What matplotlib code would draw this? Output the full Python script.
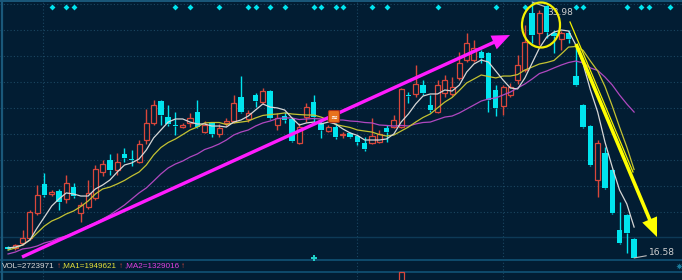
import numpy as np
import matplotlib.pyplot as plt
from matplotlib.patches import Ellipse, FancyBboxPatch

# daily bars, left to right
opens = [17.29, 17.26, 17.60, 17.94, 19.64, 21.61, 20.93, 21.13, 20.59, 21.40,
         19.64, 20.04, 20.66, 22.42, 23.24, 22.56, 23.65, 23.31, 23.10, 24.60,
         25.76, 27.25, 26.16, 25.62, 25.48, 25.76, 26.50, 25.14, 25.76, 25.01,
         25.76, 25.89, 27.52, 26.03, 27.66, 27.18, 27.93, 25.62, 26.23, 26.03,
         24.40, 26.16, 27.18, 25.76, 25.21, 25.48, 24.91, 25.08, 24.87, 24.40,
         24.40, 24.46, 25.42, 25.48, 25.48, 27.66, 27.73, 28.34, 26.98, 26.50,
         27.80, 27.73, 28.82, 30.04, 30.04, 30.58, 30.52, 28.00, 26.91, 27.66,
         28.68, 29.36, 33.24, 31.88, 33.71, 31.88, 31.47, 31.88, 28.95, 26.98,
         25.55, 21.88, 23.72, 22.56, 18.48, 19.50, 17.87]
highs = [17.39, 17.53, 18.48, 19.84, 21.54, 22.36, 21.20, 21.27, 22.22, 21.68,
         20.38, 21.88, 22.90, 23.24, 23.65, 23.72, 24.06, 23.92, 24.60, 26.71,
         27.32, 27.32, 26.98, 26.50, 25.76, 26.44, 27.32, 25.89, 25.82, 25.69,
         26.10, 27.66, 28.95, 26.64, 27.80, 28.14, 28.00, 26.44, 26.50, 26.10,
         25.76, 27.12, 27.66, 25.89, 25.62, 25.76, 25.14, 25.14, 24.94, 24.80,
         26.10, 25.28, 25.62, 26.30, 28.14, 27.86, 29.70, 28.68, 27.66, 28.68,
         29.02, 28.88, 30.58, 31.88, 31.40, 30.72, 30.58, 28.34, 28.34, 28.48,
         30.38, 32.42, 33.98, 33.44, 33.78, 32.08, 32.01, 32.08, 31.06, 27.05,
         25.62, 24.60, 24.12, 22.63, 20.38, 19.57, 17.94]
lows = [17.12, 17.12, 17.46, 17.80, 19.50, 20.72, 20.79, 19.84, 20.32, 20.66,
        19.02, 19.91, 20.52, 22.15, 22.22, 22.22, 23.10, 22.83, 23.04, 24.33,
        25.62, 25.62, 25.55, 24.94, 25.42, 25.48, 25.42, 25.08, 24.80, 24.80,
        25.55, 25.76, 26.44, 25.82, 26.84, 27.05, 26.03, 25.28, 25.76, 24.46,
        24.33, 25.82, 25.82, 24.74, 25.14, 24.67, 24.74, 24.74, 24.26, 23.85,
        24.33, 24.40, 24.46, 25.42, 25.42, 27.12, 27.52, 27.66, 26.50, 26.44,
        27.52, 27.59, 28.68, 29.90, 29.90, 29.84, 26.50, 26.23, 26.30, 27.52,
        28.41, 29.22, 31.20, 31.06, 31.54, 30.52, 30.72, 31.20, 28.27, 25.42,
        22.83, 20.72, 21.27, 19.57, 17.53, 16.92, 16.58]
closes = [17.22, 17.46, 17.94, 19.70, 20.86, 20.86, 21.06, 20.38, 21.68, 20.79,
          20.18, 21.00, 22.63, 22.97, 22.56, 23.10, 23.38, 23.21, 24.33, 25.76,
          26.98, 26.30, 25.69, 25.55, 25.59, 26.10, 25.48, 25.62, 25.01, 25.42,
          25.86, 27.12, 26.50, 26.44, 27.25, 27.93, 26.10, 26.10, 25.96, 24.53,
          25.48, 26.84, 26.16, 25.28, 25.48, 24.80, 24.97, 24.80, 24.46, 23.99,
          24.87, 25.01, 25.14, 25.96, 28.07, 27.59, 28.41, 27.80, 26.64, 28.34,
          28.68, 28.20, 29.84, 31.20, 30.86, 30.18, 27.32, 26.78, 28.20, 28.20,
          29.70, 31.26, 31.74, 33.24, 31.94, 31.67, 31.88, 31.47, 28.34, 25.48,
          22.90, 24.40, 21.34, 19.64, 17.60, 18.28, 16.58]

# moving averages as drawn on the chart
ma5 = [17.26, 17.32, 17.46, 17.80, 18.62, 19.36, 20.11, 20.59, 21.00, 20.93,
       20.79, 20.79, 21.27, 21.54, 21.88, 22.42, 22.90, 23.04, 23.31, 23.92,
       24.74, 25.28, 25.82, 26.03, 26.03, 25.82, 25.69, 25.69, 25.55, 25.55,
       25.48, 25.82, 25.96, 26.23, 26.64, 27.05, 26.84, 26.78, 26.64, 26.10,
       25.62, 25.76, 25.82, 25.69, 25.82, 25.69, 25.35, 25.08, 24.91, 24.60,
       24.60, 24.60, 24.67, 25.01, 25.82, 26.37, 27.05, 27.59, 27.73, 27.73,
       28.00, 27.93, 28.34, 29.22, 29.77, 30.04, 29.90, 29.29, 28.68, 28.14,
       28.07, 28.82, 29.84, 30.86, 31.60, 31.94, 32.08, 32.01, 31.06, 29.77,
       28.00, 26.50, 24.46, 22.76, 21.20, 20.25, 18.68]
ma10 = [17.12, 17.26, 17.46, 17.80, 18.28, 18.75, 19.09, 19.30, 19.57, 19.77,
        20.08, 20.45, 20.93, 21.27, 21.40, 21.61, 21.85, 22.15, 22.42, 22.90,
        23.58, 24.09, 24.43, 24.67, 24.97, 25.28, 25.48, 25.76, 25.79, 25.79,
        25.65, 25.76, 25.82, 25.89, 26.10, 26.27, 26.33, 26.37, 26.44, 26.37,
        26.33, 26.30, 26.30, 26.16, 25.96, 25.65, 25.55, 25.45, 25.28, 25.21,
        25.14, 24.97, 24.87, 24.94, 25.21, 25.48, 25.82, 26.13, 26.37, 26.78,
        27.18, 27.49, 27.97, 28.48, 28.75, 29.02, 28.92, 28.82, 28.95, 28.95,
        29.05, 29.36, 29.56, 29.77, 29.87, 30.01, 30.45, 30.92, 30.96, 30.69,
        29.97, 29.29, 28.24, 26.91, 25.48, 24.12, 22.59]
ma20 = [16.85, 16.98, 17.19, 17.26, 17.39, 17.60, 17.73, 17.94, 18.07, 18.28,
        18.48, 18.75, 18.96, 19.23, 19.50, 19.84, 20.18, 20.59, 21.00, 21.34,
        21.81, 22.29, 22.70, 22.97, 23.17, 23.44, 23.65, 23.95, 24.12, 24.33,
        24.60, 24.94, 25.14, 25.28, 25.55, 25.76, 25.89, 26.06, 26.10, 26.10,
        25.99, 26.03, 26.06, 26.03, 26.03, 25.96, 25.96, 25.89, 25.86, 25.79,
        25.76, 25.62, 25.59, 25.55, 25.59, 25.55, 25.69, 25.79, 25.82, 25.99,
        26.16, 26.23, 26.44, 26.71, 26.98, 27.25, 27.39, 27.46, 27.66, 27.86,
        28.14, 28.41, 28.75, 29.12, 29.29, 29.50, 29.70, 29.87, 29.97, 29.84,
        29.50, 29.33, 28.88, 28.34, 27.66, 27.05, 26.50]

signal_days = [6, 8, 9, 23, 25, 29, 33, 34, 36, 38, 42, 43, 45, 46, 50, 52,
               59, 67, 71, 78, 79, 85, 87, 88, 91]
bottom_signal_days = [42]
vol_line = ["VOL=2723971", "↑", ",MA1=1949621", "↑", ",MA2=1329016", "↑"]

BG = "#021d33"
RED = "#d9473b"
CYAN = "#00e4ee"
GRID = "#1b4762"

fig = plt.figure(figsize=(6.82, 2.8), dpi=100)
fig.patch.set_facecolor(BG)

# background layer in pixel units: grid and frame
bg = fig.add_axes([0, 0, 1, 1], zorder=0)
bg.set_xlim(0, 682)
bg.set_ylim(280, 0)
bg.set_facecolor(BG)
bg.axis("off")
for gy in [4, 30, 56, 82, 108, 134, 160, 186, 212]:
    bg.axhline(gy, color=GRID, lw=0.8, ls=(0, (1, 2)))
for gx in [43, 357, 503]:
    bg.axvline(gx, color=GRID, lw=0.8, ls=(0, (1, 2)))
bg.axhline(236.5, color="#0d3a57", lw=1.0)
bg.axhline(259.5, color="#0f4b6c", lw=1.4)
bg.axhline(272, color="#0f4b6c", lw=1.4)
bg.axvline(1.5, color="#1a587a", lw=1.6)
bg.axhline(1, color="#1a587a", lw=1.4)

# price layer
ax = fig.add_axes([0, 0, 1, 1], zorder=1)
ax.patch.set_alpha(0)
ax.axis("off")
ax.set_xlim(-1.10, 92.58)
ax.set_ylim(15.08, 34.12)

idx = np.arange(len(opens))
o = np.array(opens)
h = np.array(highs)
l = np.array(lows)
c = np.array(closes)
up = c >= o
top = np.maximum(o, c)
bot = np.minimum(o, c)
body = np.maximum(top - bot, 0.07)
cols = np.where(up, RED, CYAN)

ax.vlines(idx, top, h, colors=cols, lw=1.0)
ax.vlines(idx, l, bot, colors=cols, lw=1.0)
ax.bar(idx[up], body[up], bottom=bot[up], width=0.7,
       facecolor=BG, edgecolor=RED, linewidth=0.9)
ax.bar(idx[~up], body[~up], bottom=bot[~up], width=0.74,
       color=CYAN, linewidth=0)

ax.plot(idx, ma20, color="#b048c0", lw=0.9, zorder=3)
ax.plot(idx, ma10, color="#c4c232", lw=0.9, zorder=3)
ax.plot(idx, ma5, color="#d6d6d6", lw=0.9, zorder=3)

# signal marks along the top and bottom edges
ax.scatter(signal_days, [1 - 7 / 280] * len(signal_days), marker="D", s=9,
           color=CYAN, transform=ax.get_xaxis_transform(), zorder=4, lw=0)
ax.scatter(bottom_signal_days, [1 - 258 / 280] * len(bottom_signal_days),
           marker="P", s=16, color="#20d0c8",
           transform=ax.get_xaxis_transform(), zorder=4, lw=0)

# volume bar peeking into the lower panel
ax.bar([54], [1.0], bottom=14.6, width=0.7, facecolor=BG,
       edgecolor=RED, linewidth=0.9)

# max / min labels
pk = int(np.argmax(h))
lw_i = int(np.argmin(l))
ax.annotate(f"{h[pk]:.2f}", xy=(pk, h[pk]), xytext=(15, -10),
            textcoords="offset pixels", color="#cfcfcf", fontsize=6.6,
            ha="left", va="center",
            arrowprops=dict(arrowstyle="-", color="#bdbdbd", lw=0.8,
                            shrinkA=0, shrinkB=0))
ax.annotate(f"{l[lw_i]:.2f}", xy=(lw_i, l[lw_i]), xytext=(15, 5),
            textcoords="offset pixels", color="#cfcfcf", fontsize=6.6,
            ha="left", va="center",
            arrowprops=dict(arrowstyle="-", color="#bdbdbd", lw=0.8,
                            shrinkA=0, shrinkB=0))

# hand-drawn marks on top
deco = fig.add_axes([0, 0, 1, 1], zorder=2)
deco.patch.set_alpha(0)
deco.axis("off")
deco.set_xlim(0, 682)
deco.set_ylim(280, 0)

deco.arrow(22, 257, 488, -222, width=3.4, head_width=15, head_length=18,
           length_includes_head=True, color="#ff1cff", lw=0)
deco.plot([570, 633], [22, 172], color="#f2f000", lw=0.9)
deco.arrow(576, 44, 81, 193, width=3.6, head_width=16, head_length=19,
           length_includes_head=True, color="#ffff00", lw=0)
deco.add_patch(Ellipse((541, 25), 38, 45, fill=False, ec="#f4f000", lw=1.6))

deco.add_patch(FancyBboxPatch((328.5, 110.5), 11, 12,
                              boxstyle="round,pad=0,rounding_size=1.5",
                              fc="#e8721e", ec="#a8301a", lw=0.8))
deco.text(334, 117, "≈", color="white", fontsize=6, ha="center", va="center",
          fontweight="bold")
deco.scatter([679], [266], marker=(8, 1, 0), s=22, color="#1a7a9a", lw=0)

# indicator readout line
vol_cols = ["#d8d8d8", RED, "#e4e23a", RED, "#e040e0", RED]
renderer = fig.canvas.get_renderer()
x = 2
for s, col in zip(vol_line, vol_cols):
    t = deco.text(x, 266, s, color=col, fontsize=5.9, ha="left", va="center",
                  family=["Liberation Sans", "DejaVu Sans"])
    bb = t.get_window_extent(renderer=renderer)
    x += bb.width + (1 if s == "↑" else 2)

fig.savefig("out.png", dpi=100, facecolor=BG)
